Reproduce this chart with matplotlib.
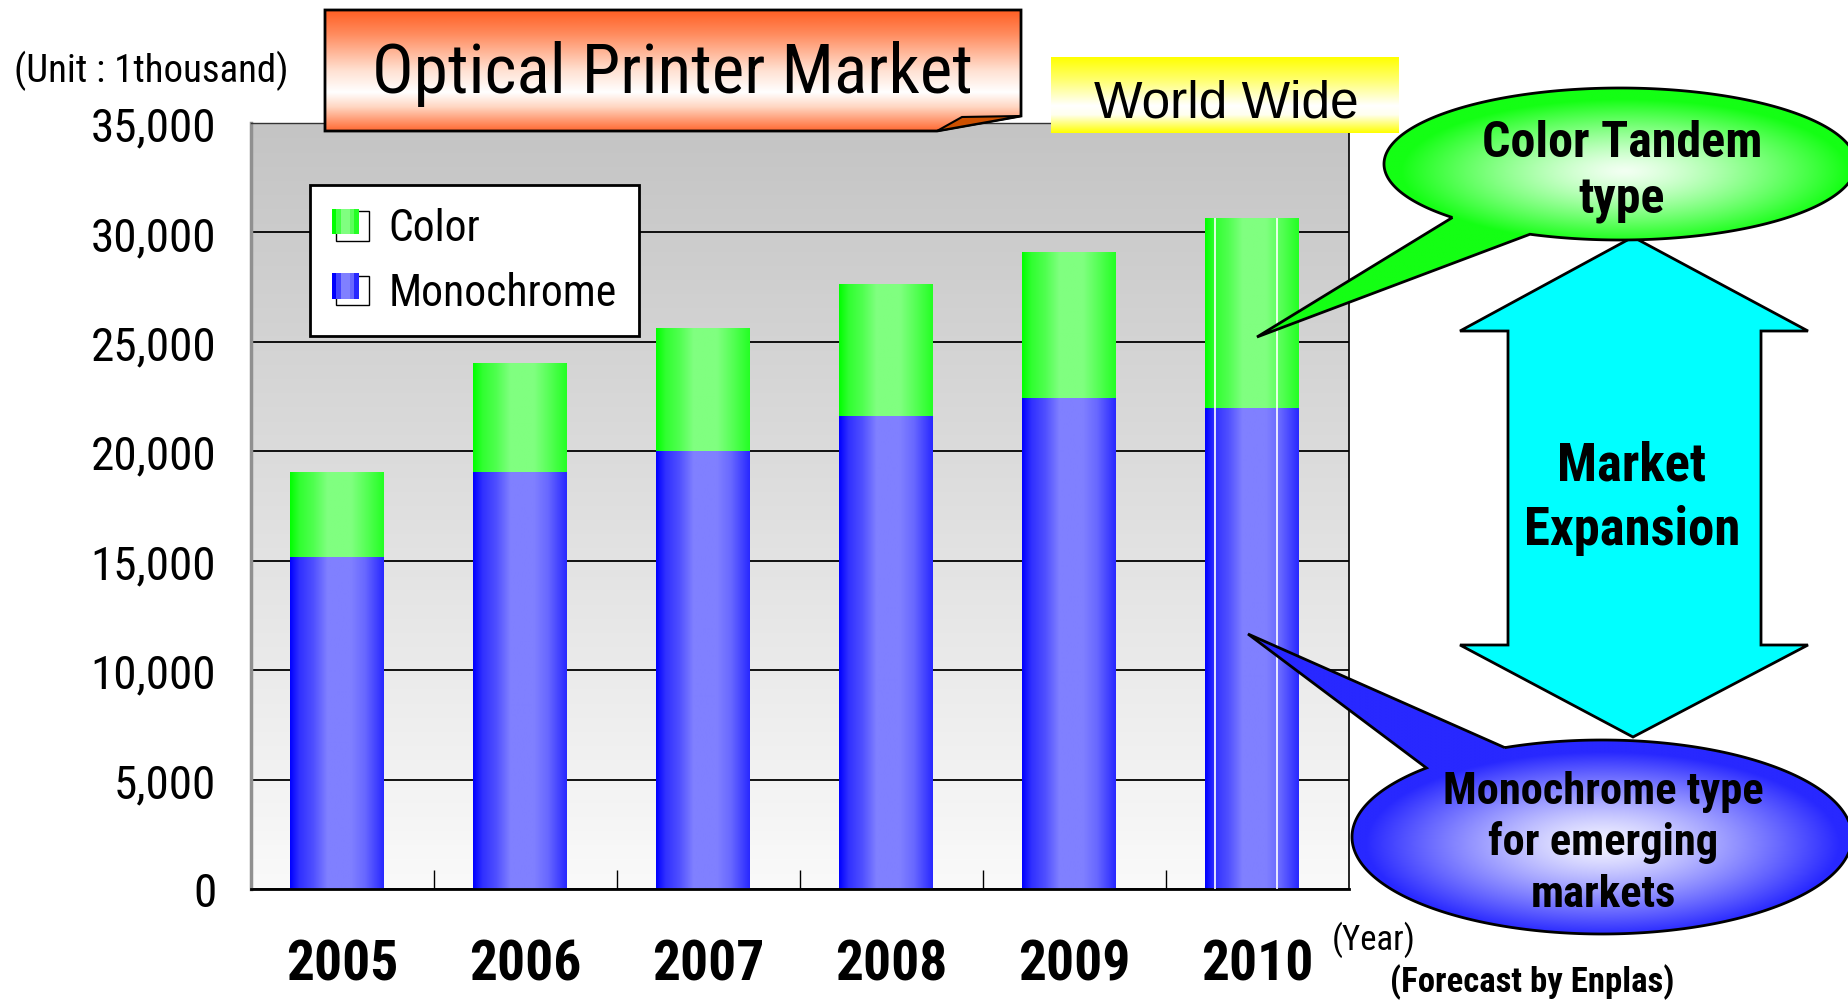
import numpy as np
import matplotlib
matplotlib.use("Agg")
import matplotlib.pyplot as plt
from matplotlib.patches import Polygon, Patch, Rectangle
from matplotlib.legend_handler import HandlerBase

years = ["2005", "2006", "2007", "2008", "2009", "2010"]
monochrome = [15150, 19050, 20000, 21600, 22450, 22000]
color = [3900, 5000, 5650, 6050, 6650, 8650]
y_ticks = [0, 5000, 10000, 15000, 20000, 25000, 30000, 35000]
y_tick_labels = ["{:,}".format(v) for v in y_ticks]

NARROW = ["Roboto Condensed", "DejaVu Sans"]
W, H = 1848, 1004


def grad(stops, n=256):
    pos = [s[0] for s in stops]
    cols = np.array([s[1] for s in stops], dtype=float) / 255.0
    t = np.linspace(0, 1, n)
    return np.stack([np.interp(t, pos, cols[:, k]) for k in range(3)], axis=-1)


blue_stops = [(0, (0, 0, 255)), (0.1, (48, 48, 255)), (0.25, (80, 80, 255)),
              (0.4, (128, 128, 255)), (0.65, (128, 128, 255)), (0.8, (104, 104, 255)),
              (1, (40, 40, 255))]
green_stops = [(0, (0, 255, 0)), (0.1, (48, 255, 48)), (0.25, (80, 255, 80)),
               (0.4, (128, 255, 128)), (0.65, (128, 255, 128)), (0.8, (90, 255, 90)),
               (1, (36, 255, 36))]

fig = plt.figure(figsize=(W / 100, H / 100), dpi=100)
ax = fig.add_axes([251 / W, 1 - 890 / H, (1349 - 251) / W, (890 - 124) / H])

# grey background wall
bg = grad([(0, (196, 196, 196)), (1, (250, 250, 250))])[:, np.newaxis, :]
ax.imshow(bg, extent=(-0.5, len(years) - 0.5, 0, 35000), aspect="auto", zorder=0)

x = np.arange(len(years))
mono_bars = ax.bar(x - 0.03, monochrome, width=0.51, color="#6060ff", zorder=2)
color_bars = ax.bar(x - 0.03, color, bottom=monochrome, width=0.51, color="#60ff60", zorder=2)


def shade_bars(bars, stops):
    img = grad(stops)[np.newaxis, :, :]
    for b in bars:
        bb = b.get_bbox()
        im = ax.imshow(img, extent=(bb.x0, bb.x1, bb.y0, bb.y1), aspect="auto",
                       interpolation="bilinear", zorder=2.5)
        im.set_clip_path(b)


shade_bars(mono_bars, blue_stops)
shade_bars(color_bars, green_stops)

# thin white seams on the forecast bar
for bars in (mono_bars, color_bars):
    bb = bars[-1].get_bbox()
    for f in (0.1, 0.77):
        ax.vlines(bb.x0 + f * (bb.x1 - bb.x0), bb.y0, bb.y1, color="white", lw=1.2, zorder=3)

ax.set_xlim(-0.5, len(years) - 0.5)
ax.set_ylim(0, 35000)
ax.set_yticks(y_ticks)
ax.set_yticklabels(y_tick_labels, fontfamily=NARROW, fontsize=34)
ax.set_xticks(x)
ax.set_xticklabels(years, fontfamily=NARROW, fontsize=40, fontweight="bold")
ax.set_xticks(np.arange(0.5, len(years) - 0.5, 1), minor=True)
ax.tick_params(axis="x", which="major", length=0, pad=36)
ax.tick_params(axis="x", which="minor", direction="in", length=14, width=1, color="black")
ax.tick_params(axis="y", length=0, pad=25)
ax.set_axisbelow(True)
ax.yaxis.grid(True, color="black", lw=1.3)
ax.spines["left"].set_color("#909090")
ax.spines["left"].set_linewidth(2.5)
ax.spines["top"].set_color("#333333")
ax.spines["top"].set_linewidth(1)
ax.spines["right"].set_linewidth(1.2)
ax.spines["bottom"].set_linewidth(2)


class BoxHandler(HandlerBase):
    # coloured strip laid over an outlined white square, as in the original legend keys
    def __init__(self, stops):
        super().__init__()
        self.stops = stops

    def create_artists(self, legend, orig_handle, xdescent, ydescent, width, height, fontsize, trans):
        x0, y0 = -xdescent, -ydescent
        back = Rectangle((x0 + 0.11 * width, y0), 0.89 * width, 0.91 * height,
                         facecolor="white", edgecolor="black", lw=1, transform=trans)
        arts = [back]
        cols = grad(self.stops, n=6)
        n = len(cols)
        for i, c in enumerate(cols):
            arts.append(Rectangle((x0 + 0.73 * width * i / n, y0 + 0.21 * height),
                                  0.73 * width / n + 0.3, 0.79 * height,
                                  facecolor=c, edgecolor="none", transform=trans))
        return arts


h_color = Patch(facecolor="#50ff50")
h_mono = Patch(facecolor="#5050ff")
leg = ax.legend([h_color, h_mono], ["Color", "Monochrome"], loc="upper left",
                bbox_to_anchor=(310 / W, 1 - 186 / H), bbox_transform=fig.transFigure,
                prop=dict(family=NARROW, size=31.5), fancybox=False, edgecolor="black",
                framealpha=1, borderpad=0.5, handlelength=0.85, handleheight=0.75,
                handletextpad=0.45, labelspacing=0.52, borderaxespad=0,
                handler_map={h_color: BoxHandler(green_stops), h_mono: BoxHandler(blue_stops)})
leg.get_frame().set_linewidth(2)

# overlay in pixel coordinates for the callout shapes
ov = fig.add_axes([0, 0, 1, 1], zorder=5)
ov.axis("off")


def fill_shape(pts, img, edge="black", lw=2, z=1):
    pts = np.asarray(pts, dtype=float)
    poly = Polygon(pts, closed=True, facecolor="none", edgecolor=edge, lw=lw, zorder=z + 0.1)
    ov.add_patch(poly)
    x0, y0 = pts.min(axis=0)
    x1, y1 = pts.max(axis=0)
    im = ov.imshow(img, extent=(x0, x1, y1, y0), aspect="auto", interpolation="bilinear", zorder=z)
    im.set_clip_path(poly)


# title box with folded corner
title_pts = [(325, 11), (1021, 11), (1021, 117), (937, 132), (325, 132)]
title_img = grad([(0, (255, 95, 35)), (0.2, (255, 140, 95)), (0.5, (255, 225, 210)),
                  (0.68, (255, 255, 255)), (0.8, (255, 215, 195)), (1, (255, 105, 50))])[:, np.newaxis, :]
fill_shape(title_pts, title_img, z=2)
ov.add_patch(Polygon([(937, 132), (962, 118), (1021, 117)], closed=True,
                     facecolor="#cc5000", edgecolor="black", lw=1.5, zorder=2.2))
ov.text(672, 93, "Optical Printer Market", fontfamily=NARROW, fontsize=50,
        ha="center", va="baseline", zorder=3)

# world wide band
ww_img = grad([(0, (255, 255, 0)), (0.3, (255, 255, 110)), (0.64, (255, 255, 255)),
               (0.76, (255, 255, 240)), (1, (255, 255, 0))])[:, np.newaxis, :]
fill_shape([(1051, 58), (1399, 58), (1399, 134), (1051, 134)], ww_img, edge="none", lw=0, z=2)
ov.text(1226, 117, "World Wide", fontfamily="Liberation Sans", fontsize=37,
        ha="center", va="baseline", zorder=3)

ov.text(14, 82, "(Unit : 1thousand)", fontfamily=NARROW, fontsize=28, ha="left", va="baseline")
ov.text(1374, 950, "(Year)", fontfamily=NARROW, fontsize=25, ha="center", va="baseline")
ov.text(1532, 992, "(Forecast by Enplas)", fontfamily=NARROW, fontsize=25, fontweight="bold",
        ha="center", va="baseline")

# double arrow
arrow_pts = [(1633, 238), (1808, 332), (1761, 332), (1761, 646), (1808, 646), (1633, 738),
             (1460, 646), (1508, 646), (1508, 332), (1460, 332)]
ov.add_patch(Polygon(arrow_pts, closed=True, facecolor="#00ffff", edgecolor="black", lw=2, zorder=1))
ov.text(1632, 481, "Market", fontfamily=NARROW, fontsize=38, fontweight="bold",
        ha="center", va="baseline", zorder=3)
ov.text(1632, 545, "Expansion", fontfamily=NARROW, fontsize=38, fontweight="bold",
        ha="center", va="baseline", zorder=3)


def bubble(cx, cy, a, b, base1, base2, tip, edge_rgb, white_c):
    t1 = np.arctan2((base1[1] - cy) / b, (base1[0] - cx) / a)
    t2 = np.arctan2((base2[1] - cy) / b, (base2[0] - cx) / a)
    lo, hi = min(t1, t2), max(t1, t2)
    t = np.linspace(hi, lo + 2 * np.pi, 300)
    pts = np.column_stack([cx + a * np.cos(t), cy + b * np.sin(t)])
    pts = np.vstack([pts, [tip]])
    x0, y0 = pts.min(axis=0)
    x1, y1 = pts.max(axis=0)
    gx, gy = np.meshgrid(np.linspace(x0, x1, 400), np.linspace(y0, y1, 200))
    r = np.sqrt(((gx - white_c[0]) / (a * 0.95)) ** 2 + ((gy - white_c[1]) / (b * 0.95)) ** 2)
    k = np.clip(r, 0, 1)[..., np.newaxis] ** 1.3
    edge = np.array(edge_rgb) / 255.0
    img = (1 - k) * np.array([0.95, 1.0, 0.95] if edge_rgb[1] > 200 else [0.95, 0.95, 1.0]) + k * edge
    fill_shape(pts, img, z=2)


bubble(1620, 165, 236, 76, (1454, 218), (1529, 236), (1257, 338), (20, 255, 20), (1625, 172))
ov.text(1622, 157, "Color Tandem", fontfamily=NARROW, fontsize=36, fontweight="bold",
        ha="center", va="baseline", zorder=3)
ov.text(1622, 213, "type", fontfamily=NARROW, fontsize=36, fontweight="bold",
        ha="center", va="baseline", zorder=3)

bubble(1602, 838, 250, 97, (1503, 747), (1424, 768), (1248, 635), (40, 40, 255), (1603, 845))
for txt, yb in [("Monochrome type", 804), ("for emerging", 855), ("markets", 907)]:
    ov.text(1603, yb, txt, fontfamily=NARROW, fontsize=32, fontweight="bold",
            ha="center", va="baseline", zorder=3)

ov.set_xlim(0, W)
ov.set_ylim(H, 0)

fig.savefig("out.png", dpi=100)
